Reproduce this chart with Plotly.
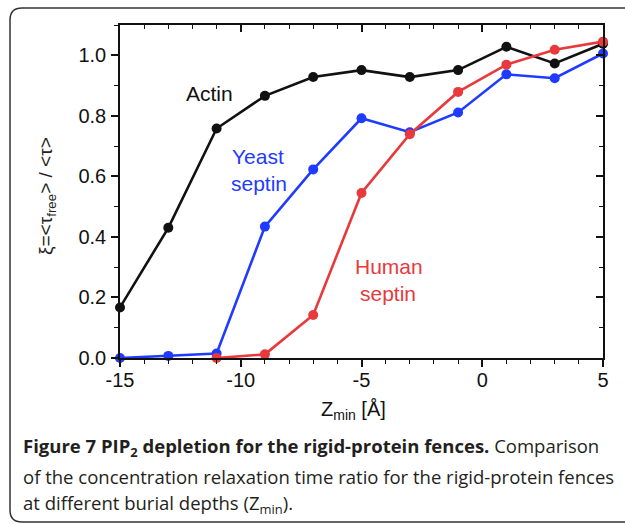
import plotly.graph_objects as go

# ---- data ----
z_all = [-15, -13, -11, -9, -7, -5, -3, -1, 1, 3, 5]
actin = [0.167, 0.43, 0.758, 0.866, 0.928, 0.951, 0.928, 0.951, 1.028, 0.973, 1.038]
yeast = [0.0, 0.007, 0.015, 0.434, 0.623, 0.792, 0.746, 0.811, 0.937, 0.924, 1.006]
z_human = [-11, -9, -7, -5, -3, -1, 1, 3, 5]
human = [0.0, 0.012, 0.142, 0.545, 0.739, 0.879, 0.969, 1.018, 1.045]

x_ticks = [-15, -10, -5, 0, 5]
y_ticks = [0.0, 0.2, 0.4, 0.6, 0.8, 1.0]

BLACK = "#111111"
BLUE = "#1f3bff"
RED = "#e8393c"

W, H = 625, 524
ML, MR, MT, MB = 120, 22, 25, 166
PW, PH = W - ML - MR, H - MT - MB


def px(xp):
    return (xp - ML) / PW


def py(yp):
    return (H - MB - yp) / PH


fig = go.Figure()


def add_series(x, y, color):
    fig.add_trace(go.Scatter(
        x=x, y=y, mode="lines+markers",
        line=dict(color=color, width=2.6),
        marker=dict(color=color, size=10),
        cliponaxis=False, showlegend=False, hoverinfo="skip"))


add_series(z_all, yeast, BLUE)
add_series(z_all, actin, BLACK)
add_series(z_human, human, RED)

# dummy trace for mirrored (inside-tick) axes
fig.add_trace(go.Scatter(x=[None], y=[None], xaxis="x2", yaxis="y2",
                         showlegend=False, hoverinfo="skip"))

tickfont = dict(family="Liberation Sans, Arial, sans-serif", size=20, color="#111")
common_x = dict(range=[-15, 5], showgrid=False, zeroline=False, showline=True,
                linecolor="#111", linewidth=1.6)
common_y = dict(range=[0, 1.1], showgrid=False, zeroline=False, showline=True,
                linecolor="#111", linewidth=1.6)

fig.update_layout(
    width=W, height=H,
    margin=dict(l=ML, r=MR, t=MT, b=MB),
    paper_bgcolor="white", plot_bgcolor="white",
    xaxis=dict(**common_x, tickvals=x_ticks, ticktext=[str(v) for v in x_ticks],
               ticks="outside", ticklen=7, tickwidth=1.5, tickcolor="#111",
               tickfont=tickfont, ticklabelstandoff=-4,
               minor=dict(ticks="outside", ticklen=4, dtick=1, tickwidth=1.4,
                          tickcolor="#111", showgrid=False)),
    yaxis=dict(**common_y, tickvals=y_ticks, tickformat=".1f",
               ticks="outside", ticklen=7, tickwidth=1.5, tickcolor="#111",
               tickfont=tickfont, ticklabelstandoff=1,
               minor=dict(ticks="outside", ticklen=4, dtick=0.1, tick0=0, tickwidth=1.4,
                          tickcolor="#111", showgrid=False)),
    xaxis2=dict(**common_x, overlaying="x", side="top", anchor="y2",
                tickvals=x_ticks, showticklabels=False,
                ticks="inside", ticklen=7, tickwidth=1.5, tickcolor="#111",
                minor=dict(ticks="inside", ticklen=4, dtick=1, tickwidth=1.4,
                           tickcolor="#111", showgrid=False)),
    yaxis2=dict(**common_y, overlaying="y", side="right", anchor="x2",
                tickvals=y_ticks, showticklabels=False,
                ticks="inside", ticklen=7, tickwidth=1.5, tickcolor="#111",
                minor=dict(ticks="inside", ticklen=4, dtick=0.1, tick0=0, tickwidth=1.4,
                           tickcolor="#111", showgrid=False)),
)

lab_font = "Liberation Sans, Arial, sans-serif"
series_labels = [
    ("Actin", -11.29, 0.875, BLACK),
    ("Yeast", -9.29, 0.665, BLUE),
    ("septin", -9.25, 0.575, BLUE),
    ("Human", -3.86, 0.302, RED),
    ("septin", -3.9, 0.212, RED),
]
for t, x, y, c in series_labels:
    fig.add_annotation(x=x, y=y, xref="x", yref="y", text=t, showarrow=False,
                       xanchor="center", yanchor="middle",
                       font=dict(family=lab_font, size=21, color=c))

# axis titles
fig.add_annotation(xref="paper", yref="paper", x=px(47), y=py(196),
                   text="ξ=&lt;τ<sub>free</sub>&gt; / &lt;τ&gt;", textangle=-90,
                   showarrow=False, xanchor="center", yanchor="middle",
                   font=dict(family=lab_font, size=19, color="#222"))
fig.add_annotation(xref="paper", yref="paper", x=px(353), y=py(410),
                   text="Z<sub>min</sub> [Å]", showarrow=False,
                   xanchor="center", yanchor="middle",
                   font=dict(family="Liberation Sans Narrow, Liberation Sans, Arial, sans-serif",
                             size=20, color="#111"))

# caption
cap_font = dict(family="Open Sans, sans-serif", size=18.5, color="#231f20")
captions = [
    ("<b>Figure 7</b> <b>PIP<sub>2</sub> depletion for the rigid-protein fences.</b> Comparison", 447),
    ("of the concentration relaxation time ratio for the rigid-protein fences", 476),
    ("at different burial depths (Z<sub>min</sub>).", 504),
]
for t, yp in captions:
    fig.add_annotation(xref="paper", yref="paper", x=px(21), y=py(yp), text=t,
                       showarrow=False, xanchor="left", yanchor="middle",
                       font=cap_font)

# rounded frame
L, T, R, B, r = 10, 8, 680, 522, 12
path = (f"M {px(L + r)},{py(T)} L {px(R)},{py(T)} L {px(R)},{py(B)} "
        f"L {px(L + r)},{py(B)} Q {px(L)},{py(B)} {px(L)},{py(B - r)} "
        f"L {px(L)},{py(T + r)} Q {px(L)},{py(T)} {px(L + r)},{py(T)} Z")
fig.add_shape(type="path", path=path, xref="paper", yref="paper",
              line=dict(color="#333", width=1.5), fillcolor="rgba(0,0,0,0)", layer="below")

fig.write_html(
    "out.html",
    config={"displayModeBar": False},
    post_script="document.body.style.margin='0';document.body.style.overflow='hidden';",
)
